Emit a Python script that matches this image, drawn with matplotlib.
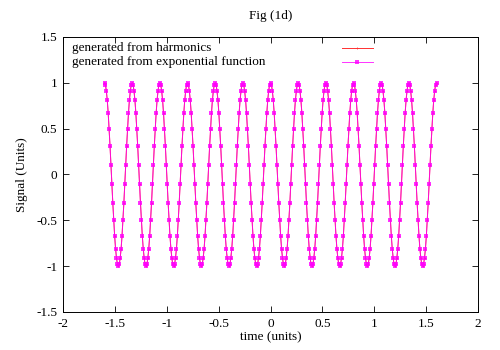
import matplotlib
matplotlib.use("Agg")
import matplotlib.pyplot as plt
import numpy as np

plt.rcParams['font.family'] = ['Liberation Serif', 'DejaVu Serif']

# one period of the signal (30 samples per period)
period_vals = [1.0, 0.98, 0.91, 0.81, 0.67, 0.5, 0.31, 0.1, -0.1, -0.31,
               -0.5, -0.67, -0.81, -0.91, -0.98, -1.0, -0.98, -0.91, -0.81, -0.67,
               -0.5, -0.31, -0.1, 0.1, 0.31, 0.5, 0.67, 0.81, 0.91, 0.98]
n_periods = 12
t_start, t_end = -1.6, 1.6

harmonics = np.array(period_vals * n_periods + [period_vals[0]])
exponential = np.array(period_vals * n_periods + [period_vals[0]])
t = np.linspace(t_start, t_end, len(harmonics))

labels = ["generated from harmonics", "generated from exponential function"]

fig = plt.figure(figsize=(5, 3.5), dpi=100)
ax = fig.add_axes([0.126, 0.1086, 0.83, 0.7857])

red_style = dict(color='#ff3030', lw=0.7, marker='+', ms=2, mew=0.5)
mag_style = dict(color='#ff00ff', lw=0.7, marker='s', ms=2.6, mew=0, alpha=0.8)

ax.plot(t, harmonics, **red_style)
ax.plot(t, exponential, **mag_style)

ax.set_xlim(-2, 2)
ax.set_ylim(-1.5, 1.5)
ax.set_xticks(np.arange(-2, 2.01, 0.5))
ax.set_xticklabels(['-2', '-1.5', '-1', '-0.5', '0', '0.5', '1', '1.5', '2'])
ax.set_yticks(np.arange(-1.5, 1.51, 0.5))
ax.set_yticklabels(['-1.5', '-1', '-0.5', '0', '0.5', '1', '1.5'])
ax.tick_params(direction='in', top=True, right=True, length=4, width=0.6,
               labelsize=9.5, pad=4)
for s in ax.spines.values():
    s.set_linewidth(0.7)

ax.set_title("Fig (1d)", fontsize=9.5, pad=13)
ax.set_xlabel("time (units)", fontsize=9.5, labelpad=1)
ax.set_ylabel("Signal (Units)", fontsize=9.5, labelpad=6)

# gnuplot style key: text on the left, sample on the right
key_y = [0.96, 0.909]
for lab, ky, st in zip(labels, key_y, [red_style, mag_style]):
    ax.text(0.022, ky, lab, transform=ax.transAxes, fontsize=9.5, va='center')
    ax.plot([0.672, 0.747], [ky, ky], transform=ax.transAxes, **dict(st, marker=None))
    ax.plot([0.7095], [ky], transform=ax.transAxes, **dict(st, ls='none'))

fig.savefig("out.png", dpi=100)
